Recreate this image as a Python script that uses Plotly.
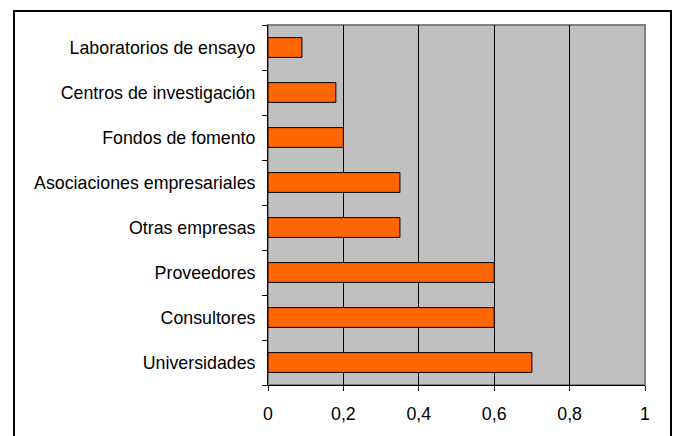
import plotly.graph_objects as go

# Categories listed bottom-to-top as they appear on the vertical axis
categorias = [
    "Universidades",
    "Consultores",
    "Proveedores",
    "Otras empresas",
    "Asociaciones empresariales",
    "Fondos de fomento",
    "Centros de investigación",
    "Laboratorios de ensayo",
]
valores = [0.70, 0.60, 0.60, 0.35, 0.35, 0.20, 0.18, 0.09]
ticks_x = [0, 0.2, 0.4, 0.6, 0.8, 1]
etiquetas_x = ["0", "0,2", "0,4", "0,6", "0,8", "1"]

fig = go.Figure(
    go.Bar(
        x=valores,
        y=categorias,
        orientation="h",
        width=0.44,
        marker=dict(color="#FF6600", line=dict(color="#000000", width=1)),
    )
)

fig.update_layout(
    width=673,
    height=436,
    margin=dict(l=268, r=28, t=25, b=51),
    paper_bgcolor="#FFFFFF",
    plot_bgcolor="#C0C0C0",
    font=dict(family="Liberation Sans, Arial, sans-serif", size=17.8, color="#000000"),
    showlegend=False,
    shapes=[
        # outer chart frame
        dict(type="rect", xref="paper", yref="paper",
             x0=-254 / 377, x1=403 / 377, y0=-60 / 360, y1=374 / 360,
             line=dict(color="#000000", width=2), fillcolor="rgba(0,0,0,0)",
             layer="below"),
        # plot area border
        dict(type="rect", xref="paper", yref="paper", x0=0, x1=1, y0=0, y1=1,
             line=dict(color="#808080", width=2), fillcolor="rgba(0,0,0,0)",
             layer="below"),
    ],
)

fig.update_xaxes(
    range=[0, 1],
    tickvals=ticks_x,
    ticktext=etiquetas_x,
    showgrid=True,
    gridcolor="#000000",
    gridwidth=1,
    zeroline=False,
    showline=True,
    linecolor="#000000",
    linewidth=1,
    ticks="outside",
    ticklen=5,
    tickcolor="#000000",
    ticklabelstandoff=8,
)

fig.update_yaxes(
    categoryorder="array",
    categoryarray=categorias,
    tickson="boundaries",
    showgrid=False,
    zeroline=False,
    showline=True,
    linecolor="#000000",
    linewidth=1,
    ticks="outside",
    ticklen=5,
    tickcolor="#000000",
    ticklabelstandoff=8,
)

fig.write_html("out.html")
